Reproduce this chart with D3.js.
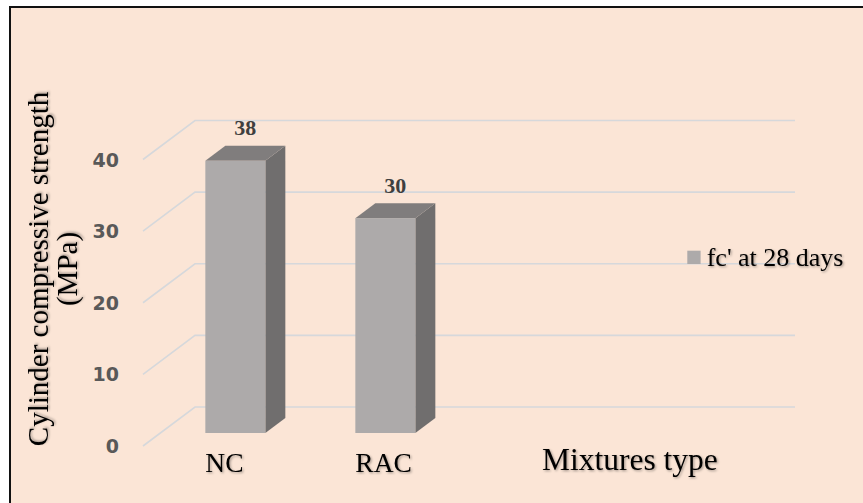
<!DOCTYPE html>
<html>
<head>
<meta charset="utf-8">
<script src="https://cdn.jsdelivr.net/npm/d3@7/dist/d3.min.js"></script>
<style>
  html, body { margin: 0; padding: 0; background: #ffffff; }
  svg { display: block; }
</style>
</head>
<body>
<svg id="chart" width="863" height="503"></svg>
<script>
// Chart data
const categories = ["NC", "RAC"];
const values = [38, 30];
const yTicks = [0, 10, 20, 30, 40];
const seriesName = "fc' at 28 days";
const xTitle = "Mixtures type";
const yTitleLines = ["Cylinder compressive strength", "(MPa)"];

const W = 863, H = 503;
const svg = d3.select("#chart");

const colors = {
  bg: "#FBE5D6",
  grid: "#D6D8DB",
  front: "#ADAAAA",
  top: "#807D7D",
  side: "#706E6E",
  tick: "#595959",
  label: "#3F3F3F",
  text: "#000000"
};

// Soft shadow used on the serif captions
const defs = svg.append("defs");
const sh = defs.append("filter").attr("id", "soft").attr("x", "-10%").attr("y", "-30%")
  .attr("width", "130%").attr("height", "160%");
sh.append("feDropShadow").attr("dx", 1.2).attr("dy", 1.2).attr("stdDeviation", 1)
  .attr("flood-color", "#000").attr("flood-opacity", 0.35);

// Chart area with a dark frame on top/left edges
svg.append("rect").attr("x", 10).attr("y", 7).attr("width", W + 10).attr("height", H + 10)
  .attr("fill", colors.bg).attr("stroke", "#111").attr("stroke-width", 2);

// 3-D layout: front plane, and a depth vector toward the back wall
const depth = { dx: 52, dy: -39 };
const frontLeft = 143, backRight = 795;
const band = 150;

const x = d3.scaleBand().domain(categories)
  .range([frontLeft, frontLeft + band * categories.length]);
const y = d3.scaleLinear().domain([0, 40]).range([446, 159.5]);

const proj = (xf, v, t) => [xf + depth.dx * t, y(v) + depth.dy * t];

// Gridlines: diagonal along the side wall, then across the back wall
const grid = svg.append("g");
yTicks.forEach(v => {
  const a = proj(frontLeft, v, 0), b = proj(frontLeft, v, 1);
  grid.append("path")
    .attr("d", `M${a[0]},${a[1]}L${b[0]},${b[1]}L${backRight},${b[1]}`)
    .attr("fill", "none").attr("stroke", colors.grid).attr("stroke-width", 1.6);
});

// Value axis labels
svg.append("g").selectAll("text").data(yTicks).join("text")
  .attr("x", 119).attr("y", d => y(d) + 1.5)
  .attr("text-anchor", "end").attr("dominant-baseline", "middle")
  .attr("font-family", "'DejaVu Sans', sans-serif").attr("font-weight", "bold")
  .attr("font-size", 19).attr("fill", colors.tick)
  .text(d => d);

// Columns
const t0 = 1 / 3, t1 = t0 + 20 / 52;
const barW = x.bandwidth() * 0.4;
const bars = svg.append("g");
categories.forEach((c, i) => {
  const v = values[i];
  const bx = x(c) + (x.bandwidth() - barW) / 2;
  const fTL = proj(bx, v, t0), fTR = proj(bx + barW, v, t0);
  const fBR = proj(bx + barW, 0, t0);
  const bTL = proj(bx, v, t1), bTR = proj(bx + barW, v, t1), bBR = proj(bx + barW, 0, t1);
  bars.append("path")
    .attr("d", `M${fTR}L${bTR}L${bBR}L${fBR}Z`).attr("fill", colors.side);
  bars.append("path")
    .attr("d", `M${fTL}L${fTR}L${bTR}L${bTL}Z`).attr("fill", colors.top);
  bars.append("rect")
    .attr("x", fTL[0]).attr("y", fTL[1])
    .attr("width", barW).attr("height", fBR[1] - fTL[1]).attr("fill", colors.front);
  // value label above the column
  const cx = bx + barW / 2 + depth.dx * (t0 + t1) / 2;
  bars.append("text")
    .attr("x", cx).attr("y", bTL[1] - 10.5)
    .attr("text-anchor", "middle")
    .attr("font-family", "'Liberation Serif', serif").attr("font-weight", "bold")
    .attr("font-size", 22).attr("fill", colors.label)
    .text(v);
  // category label
  svg.append("text")
    .attr("x", fTL[0]).attr("y", 471.7)
    .attr("font-family", "'Liberation Serif', serif")
    .attr("font-size", 27.5).attr("fill", colors.text)
    .attr("filter", "url(#soft)")
    .text(c);
});

// Category axis title
svg.append("text")
  .attr("x", 542).attr("y", 470)
  .attr("font-family", "'Liberation Serif', serif")
  .attr("font-size", 31.5).attr("fill", colors.text)
  .attr("filter", "url(#soft)")
  .text(xTitle);

// Value axis title (two lines, rotated)
const titleBase = [48, 77];
yTitleLines.forEach((line, i) => {
  svg.append("text")
    .attr("transform", `translate(${titleBase[i]},269) rotate(-90)`)
    .attr("text-anchor", "middle")
    .attr("font-family", "'Liberation Serif', serif")
    .attr("font-size", 29).attr("fill", colors.text)
    .attr("filter", "url(#soft)")
    .text(line);
});

// Legend
const lg = svg.append("g");
lg.append("rect").attr("x", 687.3).attr("y", 250.7).attr("width", 13.3).attr("height", 13.3)
  .attr("fill", colors.front);
lg.append("text").attr("x", 706.7).attr("y", 265.7)
  .attr("font-family", "'Liberation Serif', serif")
  .attr("font-size", 26).attr("fill", colors.text)
  .attr("filter", "url(#soft)")
  .text(seriesName);
</script>
</body>
</html>
